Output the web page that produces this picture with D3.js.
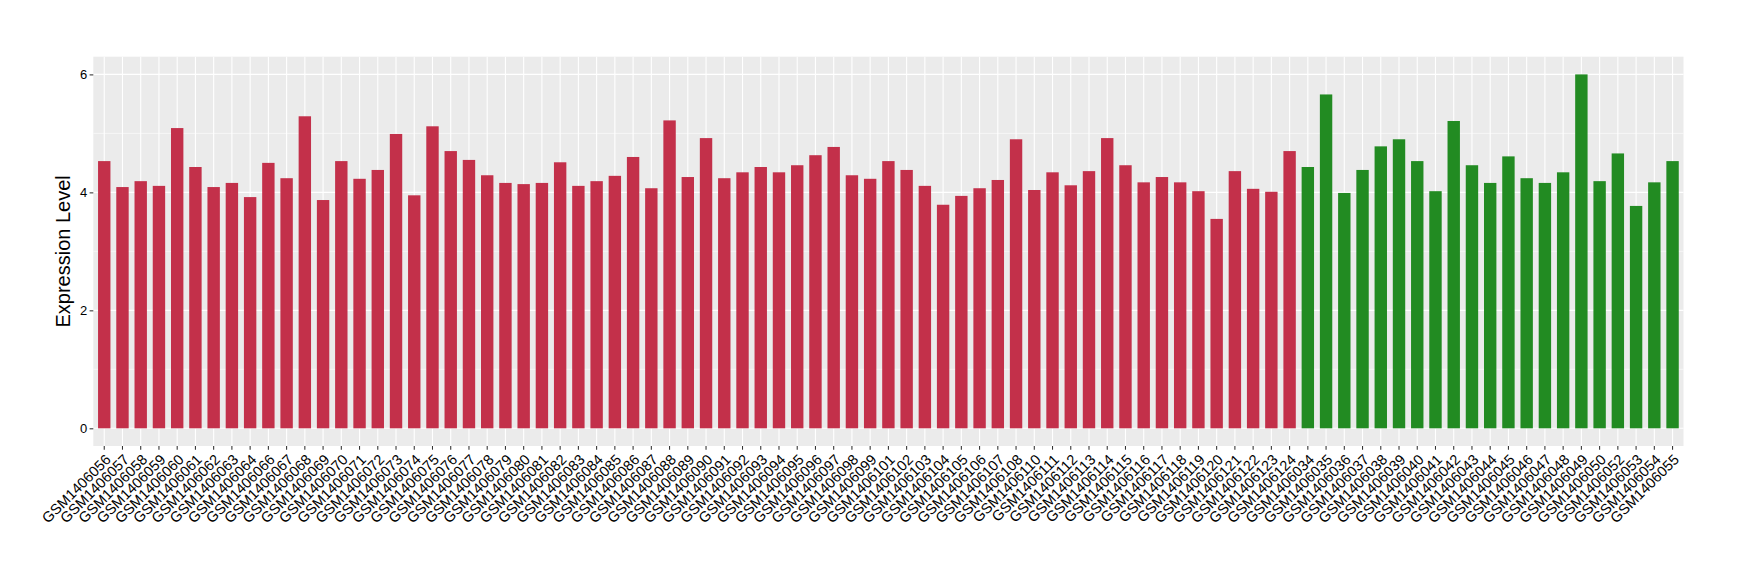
<!DOCTYPE html>
<html>
<head>
<meta charset="utf-8">
<script src="https://cdn.jsdelivr.net/npm/d3@7"></script>
<style>
  html, body { margin: 0; padding: 0; background: #ffffff; }
  svg { display: block; }
  text { font-family: "Liberation Sans", Arial, Helvetica, sans-serif; }
</style>
</head>
<body>
<svg id="chart" width="1740" height="580"></svg>
<script>
// ---- Data ----
const tumorSamples = [
  "GSM1406056","GSM1406057","GSM1406058","GSM1406059","GSM1406060","GSM1406061","GSM1406062","GSM1406063","GSM1406064",
  "GSM1406066","GSM1406067","GSM1406068","GSM1406069","GSM1406070","GSM1406071","GSM1406072","GSM1406073","GSM1406074",
  "GSM1406075","GSM1406076","GSM1406077","GSM1406078","GSM1406079","GSM1406080","GSM1406081","GSM1406082","GSM1406083",
  "GSM1406084","GSM1406085","GSM1406086","GSM1406087","GSM1406088","GSM1406089","GSM1406090","GSM1406091","GSM1406092",
  "GSM1406093","GSM1406094","GSM1406095","GSM1406096","GSM1406097","GSM1406098","GSM1406099","GSM1406101","GSM1406102",
  "GSM1406103","GSM1406104","GSM1406105","GSM1406106","GSM1406107","GSM1406108","GSM1406110","GSM1406111","GSM1406112",
  "GSM1406113","GSM1406114","GSM1406115","GSM1406116","GSM1406117","GSM1406118","GSM1406119","GSM1406120","GSM1406121",
  "GSM1406122","GSM1406123","GSM1406124"
];
const tumorValues = [
  4.53, 4.09, 4.19, 4.11, 5.09, 4.43, 4.09, 4.16, 3.92,
  4.50, 4.24, 5.29, 3.87, 4.53, 4.23, 4.38, 4.99, 3.95,
  5.12, 4.70, 4.55, 4.29, 4.16, 4.14, 4.16, 4.51, 4.11,
  4.19, 4.28, 4.60, 4.07, 5.22, 4.26, 4.92, 4.24, 4.34,
  4.43, 4.34, 4.46, 4.63, 4.77, 4.29, 4.23, 4.53, 4.38,
  4.11, 3.79, 3.94, 4.07, 4.21, 4.90, 4.04, 4.34, 4.12,
  4.36, 4.92, 4.46, 4.17, 4.26, 4.17, 4.02, 3.55, 4.36,
  4.06, 4.01, 4.70
];
const normalSamples = [
  "GSM1406034","GSM1406035","GSM1406036","GSM1406037","GSM1406038","GSM1406039","GSM1406040",
  "GSM1406041","GSM1406042","GSM1406043","GSM1406044","GSM1406045","GSM1406046","GSM1406047",
  "GSM1406048","GSM1406049","GSM1406050","GSM1406052","GSM1406053","GSM1406054","GSM1406055"
];
const normalValues = [
  4.43, 5.66, 3.99, 4.38, 4.78, 4.90, 4.53,
  4.02, 5.21, 4.46, 4.16, 4.61, 4.24, 4.16,
  4.34, 6.00, 4.19, 4.66, 3.77, 4.17, 4.53
];
const yTicks = [0, 2, 4, 6];
const yMinorTicks = [1, 3, 5];
const yTitle = "Expression Level";

// ---- Build table ----
const rows = tumorSamples.map((s, i) => ({ sample: s, value: tumorValues[i], group: "tumor" }))
  .concat(normalSamples.map((s, i) => ({ sample: s, value: normalValues[i], group: "normal" })));
const groupColor = { tumor: "#C3304A", normal: "#228B22" };

// ---- Layout ----
const svg = d3.select("#chart");
const panel = { left: 93.3, right: 1683.5, top: 56.7, bottom: 446 };

const x = d3.scaleBand()
  .domain(rows.map(d => d.sample))
  .range([panel.left, panel.right])
  .paddingInner(0.32)
  .paddingOuter(0.26);

const y = d3.scaleLinear()
  .domain([-0.3, 6.3])
  .range([panel.bottom, panel.top]);

// Panel background
svg.append("rect")
  .attr("x", panel.left).attr("y", panel.top)
  .attr("width", panel.right - panel.left)
  .attr("height", panel.bottom - panel.top)
  .attr("fill", "#EBEBEB");

const grid = svg.append("g");
grid.selectAll("line.ymin").data(yMinorTicks).join("line")
  .attr("x1", panel.left).attr("x2", panel.right)
  .attr("y1", d => y(d)).attr("y2", d => y(d))
  .attr("stroke", "#ffffff").attr("stroke-width", 0.55);
grid.selectAll("line.ymaj").data(yTicks).join("line")
  .attr("x1", panel.left).attr("x2", panel.right)
  .attr("y1", d => y(d)).attr("y2", d => y(d))
  .attr("stroke", "#ffffff").attr("stroke-width", 1.1);
grid.selectAll("line.xmaj").data(rows).join("line")
  .attr("x1", d => x(d.sample) + x.bandwidth() / 2)
  .attr("x2", d => x(d.sample) + x.bandwidth() / 2)
  .attr("y1", panel.top).attr("y2", panel.bottom)
  .attr("stroke", "#ffffff").attr("stroke-width", 1.1);

// Bars
svg.append("g").selectAll("rect").data(rows).join("rect")
  .attr("x", d => x(d.sample))
  .attr("width", x.bandwidth())
  .attr("y", d => y(d.value))
  .attr("height", d => y(0) - y(d.value))
  .attr("fill", d => groupColor[d.group]);

// Y axis
const yAxis = d3.axisLeft(y).tickValues(yTicks).tickSize(3.7).tickPadding(2.5).tickFormat(d3.format("d"));
const gy = svg.append("g").attr("transform", `translate(${panel.left},0)`).call(yAxis);
gy.select(".domain").remove();
gy.selectAll(".tick line").attr("stroke", "#333333").attr("stroke-width", 1.07);
gy.selectAll(".tick text").attr("fill", "#000000").attr("font-size", 13)
  .attr("font-family", "Liberation Sans, Arial, sans-serif");

// X axis
const xAxis = d3.axisBottom(x).tickSize(3.7).tickPadding(0);
const gx = svg.append("g").attr("transform", `translate(0,${panel.bottom})`).call(xAxis);
gx.select(".domain").remove();
gx.selectAll(".tick line").attr("stroke", "#333333").attr("stroke-width", 1.07);
gx.selectAll(".tick text")
  .attr("fill", "#000000")
  .attr("font-size", 14.6)
  .attr("font-family", "Liberation Sans, Arial, sans-serif")
  .attr("text-anchor", "end")
  .attr("x", 0).attr("y", 0)
  .attr("dy", "0.72em")
  .attr("transform", "translate(0,7) rotate(-45)");

// Y title
svg.append("text")
  .attr("transform", `translate(70,${(panel.top + panel.bottom) / 2}) rotate(-90)`)
  .attr("text-anchor", "middle")
  .attr("font-size", 20)
  .attr("fill", "#000000")
  .text(yTitle);
</script>
</body>
</html>
